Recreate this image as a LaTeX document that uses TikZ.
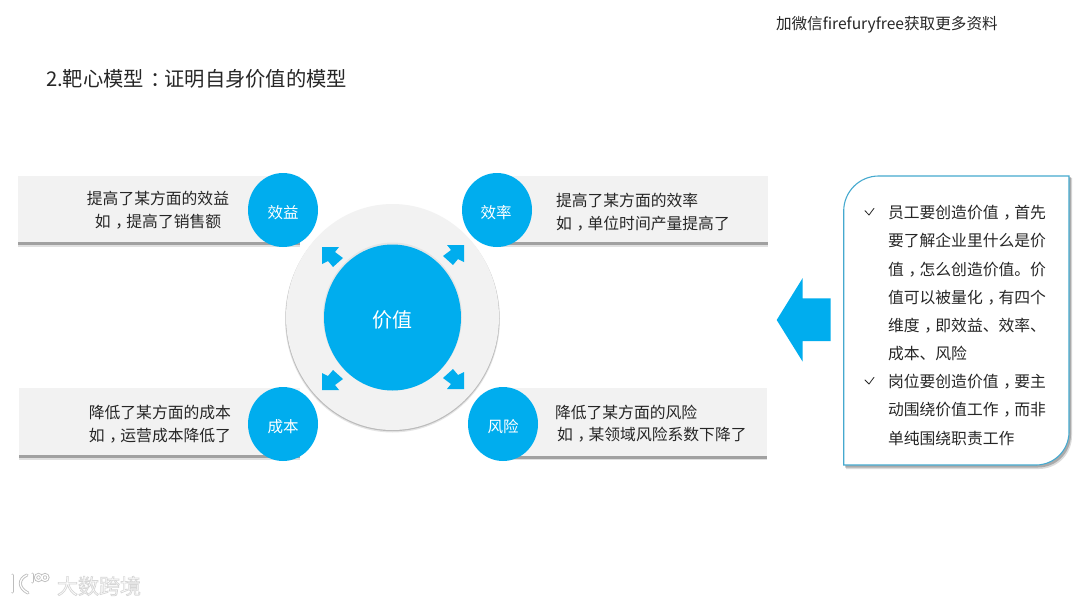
\documentclass[tikz,border=0pt]{standalone}
\usepackage{fontspec}
\setmainfont{Noto Sans CJK SC}
\usetikzlibrary{shapes.geometric}
\definecolor{cy}{HTML}{00ADEE}
\definecolor{barc}{HTML}{F2F2F2}
\definecolor{ink}{HTML}{262626}
\definecolor{edge}{HTML}{45A9CF}
\newcommand{\zc}{\kern.3em，\kern-.3em}
\newcommand{\zd}{\kern.3em：\kern-.3em}
\newcommand{\outlined}[1]{\special{pdf:code 2 Tr 0.7 w 0.84 G 1 g}#1\special{pdf:code 0 Tr}}
\newcommand{\lowered}[2]{\raisebox{-#1}[0pt][0pt]{#2}}
\tikzset{
  every node/.style={inner sep=0pt,outer sep=0pt},
  bartext/.style={text=ink,font=\fontsize{15.8}{22.5}\selectfont},
  barbox/.style={fill=barc,draw=none},
  barshade/.style={fill=black,opacity=0.28,draw=none},
  barshadesoft/.style={fill=black,opacity=0.12,draw=none},
  dot/.style={ellipse,fill=cy,minimum width=70pt,minimum height=74pt,text=white,font=\fontsize{15.5}{18}\selectfont},
  cornerarrow/.style={fill=cy,draw=none},
  checkm/.style={draw=ink,line width=.8pt,line cap=round,line join=round},
  logohalo/.style={draw=black!26,line width=3pt,line cap=round},
  logocore/.style={draw=white,line width=1.3pt,line cap=round},
}
\newcommand{\darrow}{\fill[cornerarrow] (0,0) -- (17,0) -- (13,5) -- (21,11) -- (11,20) -- (6,14) -- (0,17) -- cycle;}
\newcommand{\logoshape}[1]{%
  \draw[#1] (12,575) -- (12,592);
  \draw[#1] (27,575) .. controls (18,579) and (18,588) .. (28,593);
  \draw[#1] (32,574) -- (32,582);
  \draw[#1] (38.5,577.5) circle [radius=3];
  \draw[#1] (45,577.5) circle [radius=3];
}
\begin{document}
\begin{tikzpicture}[x=1pt,y=-1pt]
\useasboundingbox (0,0) rectangle (1080,605);
\fill[white] (0,0) rectangle (1080,605);

\node[anchor=base west,text=ink,font=\fontsize{15.6}{18}\selectfont] (top) at (776,29) {加微信firefuryfree获取更多资料};
\node[anchor=base west,text=ink,font=\fontsize{20.3}{24}\selectfont] (title) at (46,86) {2.靶心模型\zd{}证明自身价值的模型};

% bars
\fill[barshadesoft] (18,240) rectangle (300,246.5);
\fill[barshade] (18,240) rectangle (300,244.5);
\fill[barbox] (18,176) rectangle (300,242);
\fill[barshadesoft] (497,240) rectangle (768,246.5);
\fill[barshade] (497,240) rectangle (768,244.5);
\fill[barbox] (497,176) rectangle (768,242);
\fill[barshadesoft] (19,453) rectangle (300,459.5);
\fill[barshade] (19,453) rectangle (300,457.5);
\fill[barbox] (19,388) rectangle (300,455);
\fill[barshadesoft] (503,454) rectangle (767,460);
\fill[barshade] (503,454) rectangle (767,458.5);
\fill[barbox] (503,388) rectangle (767,456);

% ring
\fill[black,opacity=.10] (392.5,319) ellipse [x radius=107.5,y radius=113.5];
\fill[black,opacity=.18] (392.5,318.2) ellipse [x radius=107,y radius=113];
\node[ellipse,fill=barc,minimum width=213pt,minimum height=226pt] (ring) at (392.5,317) {};
\fill[black,opacity=.05] (392.5,316.5) ellipse [x radius=69.5,y radius=74];
\node[ellipse,fill=cy,minimum width=137pt,minimum height=146pt,text=white,font=\fontsize{20}{24}\selectfont] (core) at (392.5,317.5) {\lowered{10pt}{价值}};

% small circles
\node[dot] (c1) at (283,210) {\lowered{8pt}{效益}};
\node[dot] (c2) at (497,210) {\lowered{8pt}{\kern-2pt效率}};
\node[dot] (c3) at (283,424) {\lowered{8pt}{成本}};
\node[dot] (c4) at (503,424) {\lowered{8pt}{风险}};

% bar texts
\node[bartext,align=center] (t1) at (158,210) {提高了某方面的效益\\如\zc{}提高了销售额};
\node[bartext,align=left,anchor=west] (t2) at (556,212) {提高了某方面的效率\\如\zc{}单位时间产量提高了};
\node[bartext,align=right,anchor=east] (t3) at (231,424) {降低了某方面的成本\\如\zc{}运营成本降低了};
\node[bartext,align=left,anchor=west] (t4) at (555,423.5) {降低了某方面的风险\\\kern2pt 如\zc{}某领域风险系数下降了};

% corner arrows
\begin{scope}[shift={(322,247)}]\darrow\end{scope}
\begin{scope}[shift={(464,245)},xscale=-1]\darrow\end{scope}
\begin{scope}[shift={(322,390)},yscale=-1]\darrow\end{scope}
\begin{scope}[shift={(464,389)},xscale=-1,yscale=-1]\darrow\end{scope}

% big arrow
\fill[cy] (776.7,320) -- (802.7,278) -- (802.7,298.3) -- (830.7,298.3) -- (830.7,341) -- (802.7,341) -- (802.7,361.7) -- cycle;

% panel
\fill[black,opacity=.14] (846,213) arc[start angle=180,end angle=270,radius=35] -- (1072,178) -- (1072,436) arc[start angle=0,end angle=90,radius=33] -- (846,469) -- cycle;
\fill[black,opacity=.22] (845,212) arc[start angle=180,end angle=270,radius=35] -- (1071,177) -- (1071,434.5) arc[start angle=0,end angle=90,radius=33] -- (845,467.5) -- cycle;
\filldraw[fill=white,draw=edge,line width=1.1pt] (843.7,211) arc[start angle=180,end angle=270,radius=35] -- (1069,176) -- (1069,432) arc[start angle=0,end angle=90,radius=33] -- (843.7,465) -- cycle;
\node[anchor=north west,align=left,text=ink,font=\fontsize{15.8}{28.15}\selectfont] (panel) at (888,205.5) {员工要创造价值\zc{}首先\\要了解企业里什么是价\\值\zc{}怎么创造价值。价\\值可以被量化\zc{}有四个\\维度\zc{}即效益、效率、\\成本、风险\\岗位要创造价值\zc{}要主\\动围绕价值工作\zc{}而非\\单纯围绕职责工作};
\draw[checkm] (865,210.7) -- (869,215) -- (874,208.3);
\draw[checkm] (865,380) -- (869,384) -- (874,377.3);

% watermark
\logoshape{logohalo}
\logoshape{logocore}
\node[anchor=west,text=white,font=\fontsize{21}{24}\selectfont] (wm) at (57,586) {\outlined{大数跨境}};
\end{tikzpicture}
\end{document}
